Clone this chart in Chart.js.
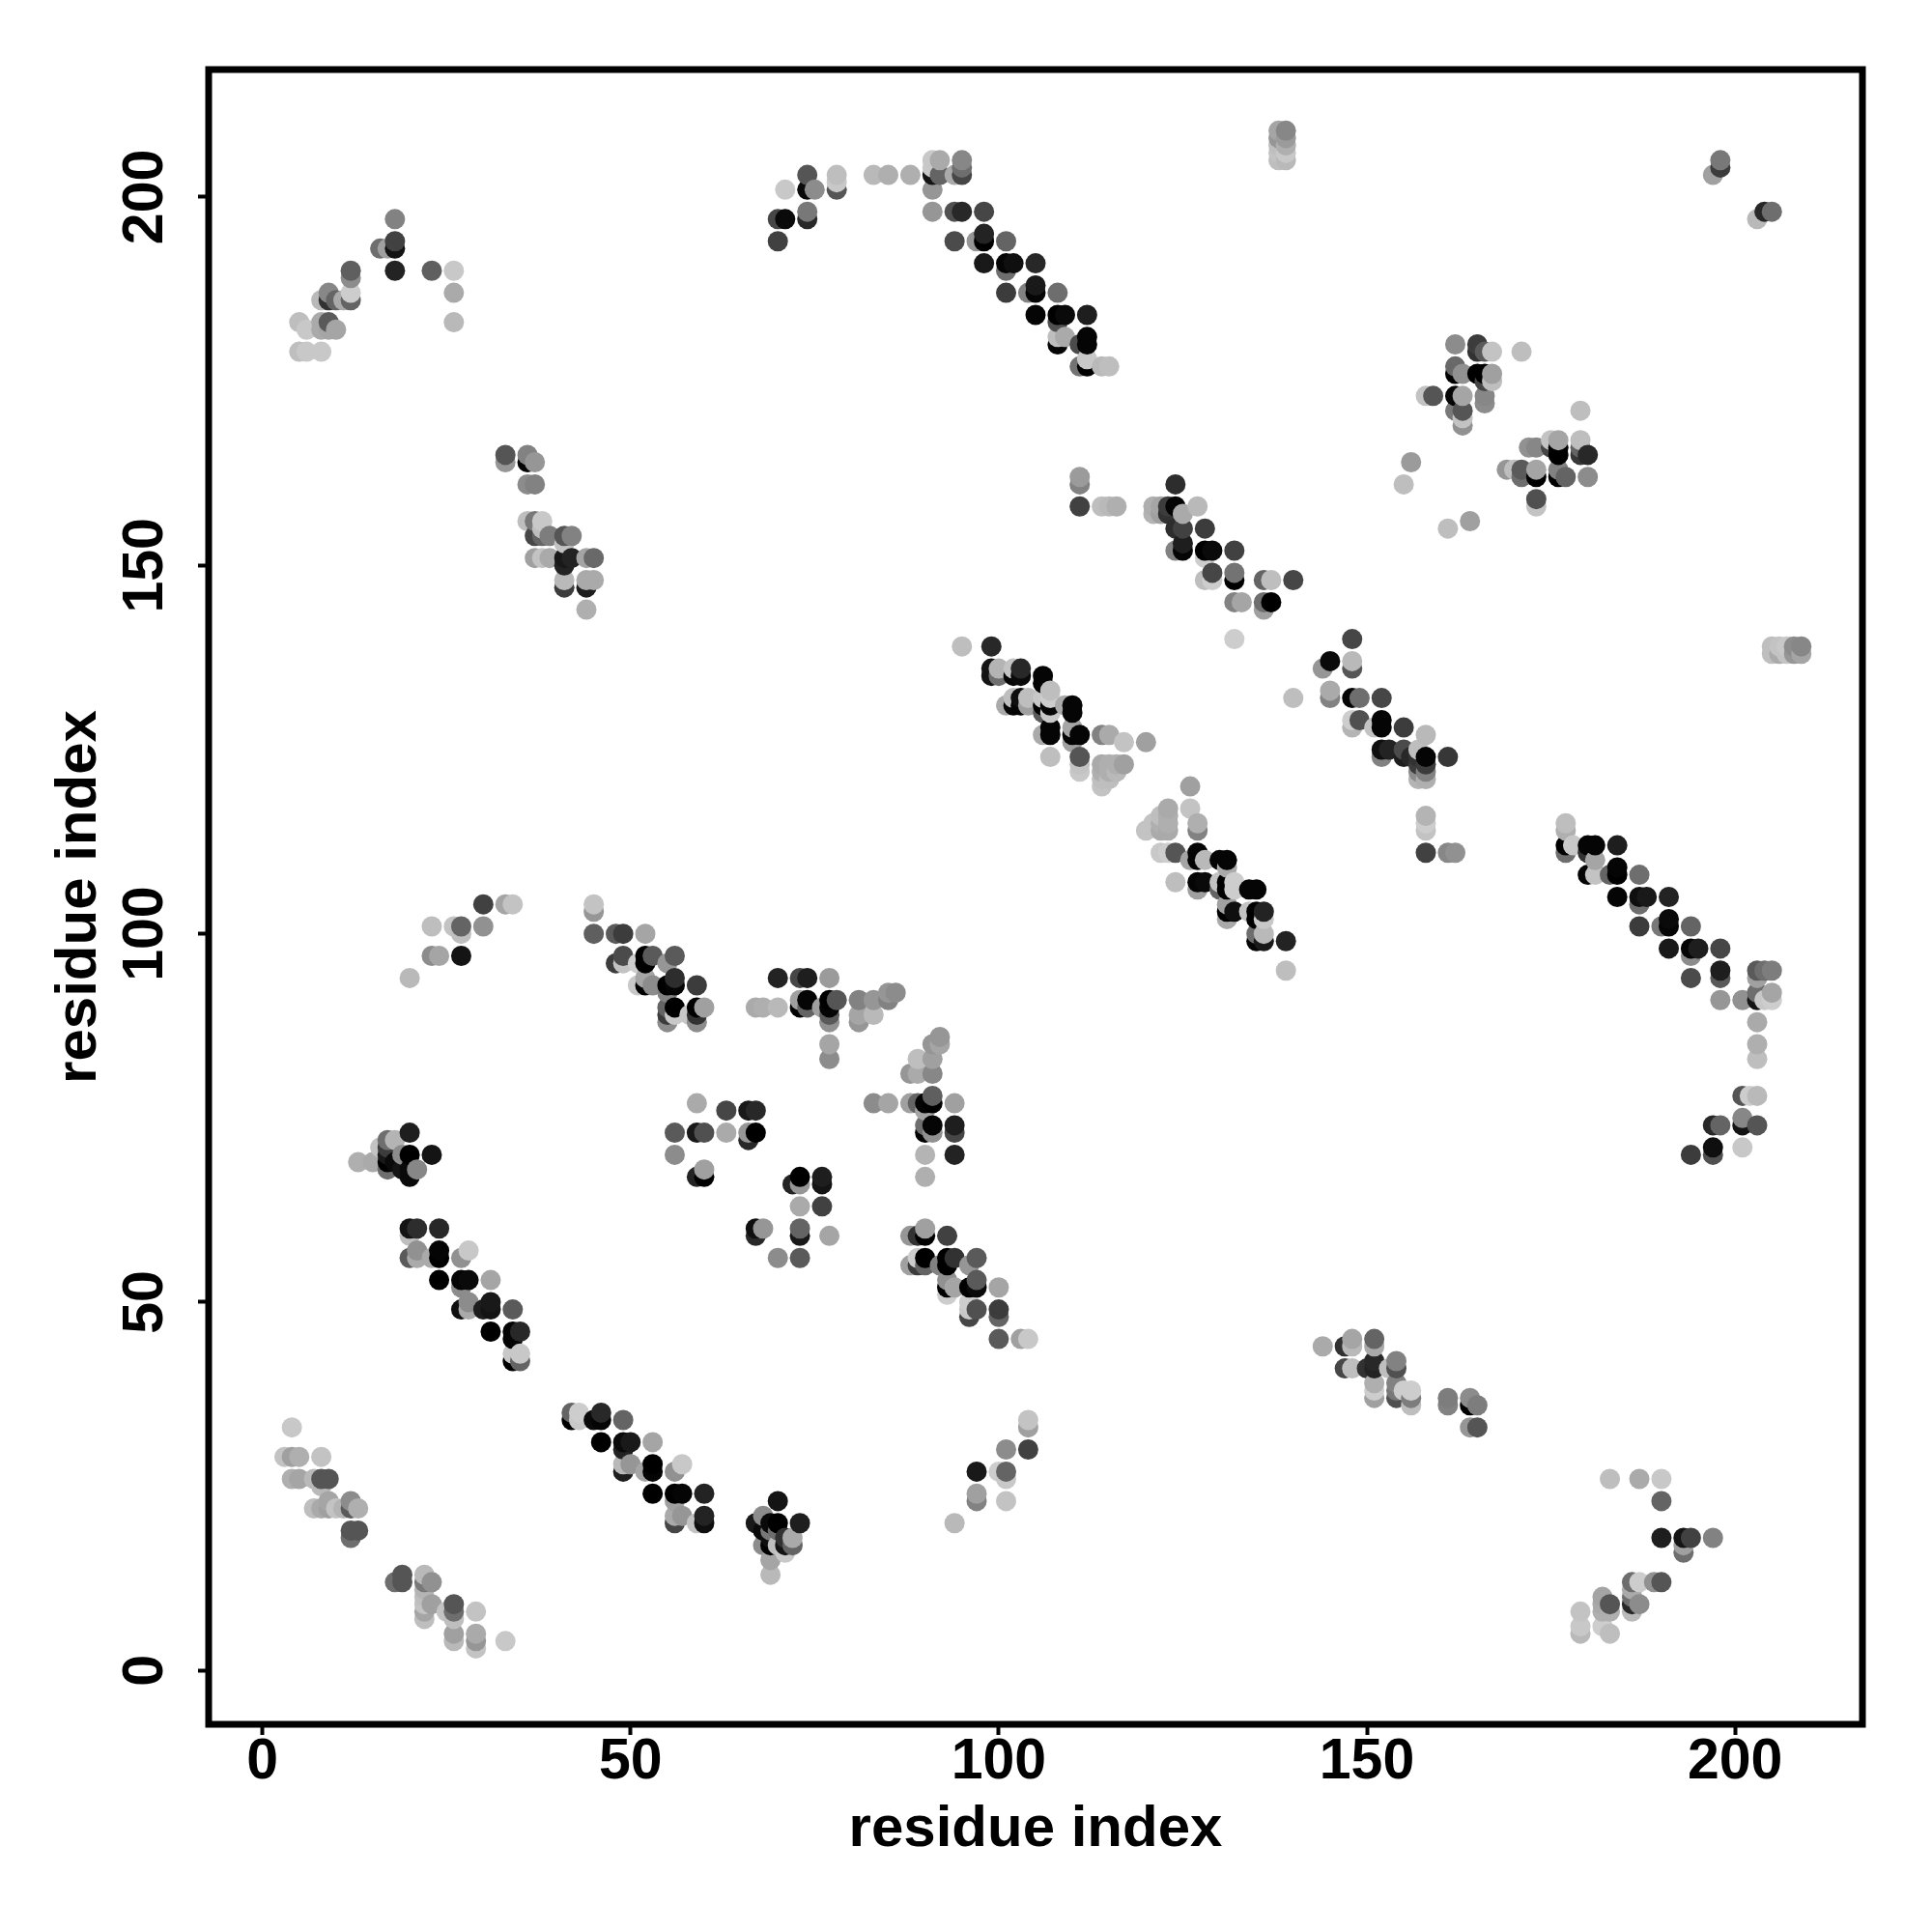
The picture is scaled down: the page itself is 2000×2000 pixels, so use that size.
<!DOCTYPE html>
<html><head><meta charset="utf-8">
<style>html,body{margin:0;padding:0;background:#fff}canvas{display:block}</style>
<script src="https://cdn.jsdelivr.net/npm/chart.js@4"></script>
</head><body><canvas id="c" width="2000" height="2000"></canvas>
<script>
// Each contact: [residue i, residue j, grey level]
const AXIS_TITLE = 'residue index';
const tickValues = [0, 50, 100, 150, 200];
const contactsA = [[4,33,200],[3,29,195],[4,29,160],[5,29,175],[8,29,195],[4,26,175],[5,26,165],[7,26,185],[8,26,85],[9,26,85],[8,25,185],[7,22,190],[8,22,170],[9,22,160],[9,23,165],[10,22,195],[11,22,180],[12,22,90],[12,23,140],[13,22,175],[12,19,85],[13,19,85],[12,18,110]];
const contactsB = [[18,12,110],[19,13,85],[19,12,85],[22,13,185],[22,12,120],[22,11,180],[22,10,190],[22,9,195],[22,8,165],[22,7,190],[23,12,145],[23,9,160],[25,8,195],[26,9,85],[26,8,110],[26,7,190],[26,5,160],[26,4,185],[29,8,195],[29,5,170],[29,4,150],[29,3,195],[33,4,200]];
const contactsC = [[20,60,20],[21,60,45],[24,60,40],[20,59,190],[21,57,145],[28,57,200],[20,56,90],[21,56,170],[23,56,170],[24,56,0],[24,57,5],[27,56,145],[24,53,0],[27,53,5],[28,53,10],[31,53,165],[27,52,140],[27,49,15],[28,49,170],[30,49,30],[31,49,20],[34,49,90],[28,50,140],[31,50,25],[31,46,0],[34,46,5],[35,46,40],[34,45,5],[34,43,200],[35,43,200],[34,42,0],[35,42,100]];
const contactsD = [[42,35,100],[43,35,205],[42,34,0],[43,34,200],[45,34,10],[46,34,5],[49,34,100],[46,35,40],[46,31,0],[49,31,10],[50,31,25],[53,31,165],[49,30,35],[49,28,185],[50,28,150],[53,28,0],[57,28,200],[49,27,30],[52,27,165],[53,27,5],[56,27,145],[53,24,0],[56,24,0],[57,24,5],[60,24,35],[56,23,160],[56,21,170],[57,21,150],[60,21,35],[56,20,70],[59,20,195],[60,20,15]];
const contactsE = [[70,23,20],[67,20,25],[68,21,140],[69,20,10],[70,20,0],[73,20,30],[68,19,10],[69,19,120],[70,19,110],[71,18,50],[72,18,170],[72,17,100],[68,17,140],[69,17,0],[69,18,15],[70,17,190],[71,17,20],[71,16,200],[69,15,165],[69,13,185]];
const contactsF = [[67,60,15],[68,60,150],[67,59,40],[73,60,100],[73,59,25],[77,59,165],[70,56,140],[73,56,90],[73,63,170],[76,63,65],[72,66,35],[73,67,0],[73,66,150],[76,67,30],[76,66,20]];
const contactsG = [[88,59,150],[89,59,50],[90,60,160],[90,59,0],[93,59,65],[89,56,205],[90,56,0],[93,56,0],[94,56,50],[97,56,90],[88,55,160],[89,55,60],[90,55,100],[92,55,130],[93,55,0],[96,55,150],[93,53,145],[97,53,90],[93,52,0],[94,52,165],[96,52,0],[97,52,10],[100,52,165],[93,51,205],[96,50,205],[96,49,200],[97,49,80],[100,49,60],[96,48,70],[100,48,100],[100,45,90],[103,45,160],[104,45,200]];
const contactsH = [[104,34,195],[104,33,160],[101,30,140],[104,30,65],[97,27,25],[100,27,205],[101,27,100],[101,26,200],[97,24,160],[97,23,130],[101,23,195],[94,20,185]];
const contactsI = [[144,44,170],[147,44,50],[148,45,165],[148,44,185],[151,45,100],[151,44,170],[147,41,70],[148,41,190],[150,41,50],[151,41,35],[151,42,40],[153,41,190],[154,42,130],[154,41,80],[151,39,175],[151,38,205],[151,37,160],[154,39,130],[154,38,120],[154,37,80],[155,38,205],[156,38,205],[156,37,125],[156,36,190],[161,37,125],[161,36,130],[164,37,140],[164,36,0],[165,36,125],[164,33,150],[165,33,85]];
const contactsJ = [[183,26,190],[187,26,170],[190,26,200],[190,23,100],[190,18,30],[193,18,20],[194,18,65],[197,18,130],[193,17,160],[193,16,110],[186,12,110],[187,12,205],[189,12,145],[190,12,85],[186,11,170],[186,10,110],[186,9,40],[187,9,140],[186,8,185],[182,10,165],[182,9,170],[183,9,85],[183,8,175],[182,8,175],[179,8,195],[179,6,200],[179,5,185],[182,6,205],[183,5,190]];
const contactsK = [[20,94,185],[23,97,140],[24,97,165],[27,97,20],[23,101,190],[26,101,195],[27,101,100],[30,101,145],[27,100,190],[30,104,65],[33,104,165],[34,104,195]];
const contactsL = [[45,104,195],[45,103,150],[45,100,95],[48,100,90],[49,100,60],[52,100,165],[49,97,75],[52,97,0],[53,97,90],[56,97,90],[48,96,60],[49,96,195],[51,96,205],[52,96,0],[55,96,150],[52,94,165],[56,94,45],[51,93,200],[52,93,0],[53,93,140],[55,93,0],[56,93,5],[59,93,60],[55,92,130],[55,90,100],[56,90,0],[59,90,0],[60,90,160],[67,90,170],[55,89,60],[56,89,200],[58,89,200],[59,89,50],[55,88,140],[59,88,140]];
const contactsM = [[59,77,170],[63,76,70],[66,76,25],[67,76,40],[56,73,90],[59,73,25],[60,73,80],[63,73,170],[66,73,150],[67,73,0],[66,72,40],[56,70,140],[60,68,160],[59,67,35],[60,67,0]];
const contactsN = [[20,73,30],[23,70,20],[13,69,175],[15,69,170],[16,71,195],[17,72,110],[18,72,180],[17,71,60],[17,70,25],[19,70,140],[20,70,0],[17,69,0],[18,69,10],[17,68,110],[19,68,20],[20,68,10],[20,67,10],[21,68,135]];
const contactsO = [[70,94,35],[73,94,70],[74,94,30],[77,94,155],[73,91,160],[74,91,5],[77,91,0],[78,91,85],[81,91,130],[83,91,150],[85,92,150],[86,92,140],[85,91,130],[68,90,175],[70,90,185],[73,90,0],[74,90,100],[76,90,160],[77,90,5],[81,89,165],[83,89,185],[81,88,150],[77,89,90],[77,88,145],[77,85,165],[77,83,140]];
const contactsP = [[92,86,150],[92,85,165],[91,85,150],[91,83,160],[89,83,190],[88,81,150],[89,81,170],[91,81,135],[91,78,95],[83,77,140],[85,77,165],[88,77,160],[89,77,100],[90,77,5],[91,77,0],[94,77,160],[90,76,165],[90,74,110],[91,74,5],[94,74,30],[90,73,0],[91,73,145],[94,73,70],[90,70,180],[94,70,35],[90,67,175]];
const contactsQ = [[99,139,40],[95,139,190],[99,136,20],[100,136,180],[99,135,20],[100,135,110],[102,136,195],[103,136,40],[102,135,5],[103,135,10],[106,135,5],[106,134,5],[102,132,190],[103,132,15],[104,132,190],[106,132,200],[107,133,190],[101,131,170],[102,131,5],[103,131,5],[104,131,160],[106,131,0],[106,130,90],[107,132,205],[107,131,5],[107,130,200],[109,131,170],[110,131,5],[110,130,5],[106,127,170],[107,128,5],[107,127,5],[110,128,165],[110,127,5],[111,127,5],[110,126,160],[114,127,130],[115,127,170],[117,126,195],[120,126,160],[107,124,190],[111,124,85],[111,123,195],[111,122,200],[114,123,170],[114,122,175],[115,123,175],[115,122,175],[116,123,175],[117,123,160],[114,120,195],[115,121,190],[116,122,185],[114,121,190]];
const contactsR = [[126,120,160],[126,117,195],[127,115,175],[127,114,130],[123,117,170],[122,116,190],[123,116,175],[121,115,195],[122,115,175],[123,115,175],[120,114,195],[122,114,170],[123,114,170],[122,111,200],[123,111,205],[124,111,85],[127,111,5],[126,110,165],[127,110,5],[128,110,185],[130,110,5],[131,110,5],[131,109,170],[124,107,190],[127,107,5],[128,107,10],[130,107,195],[131,107,0],[132,107,205],[127,106,160],[130,106,100],[131,106,0],[132,106,205],[134,106,5],[135,106,5],[131,104,160],[131,103,0],[132,103,15],[134,103,195],[135,103,0],[136,103,35],[131,102,170],[135,102,0],[136,102,200],[135,100,110],[136,100,185],[135,99,5],[136,99,25],[139,99,35],[139,95,190]];
const contactsS = [[148,140,70],[145,137,10],[144,136,150],[148,137,185],[148,136,85],[145,133,170],[145,132,130],[148,132,5],[149,132,110],[152,132,70],[140,132,190],[158,127,185],[157,125,190],[152,128,5],[152,129,5],[149,129,80],[148,129,205],[148,128,180],[155,128,60],[151,128,195],[161,124,55],[152,125,15],[153,125,35],[155,125,75],[152,124,130],[155,124,30],[156,124,40],[158,124,5],[157,124,50],[157,123,60],[158,123,60],[157,122,140],[158,122,130],[157,121,180],[158,121,175],[158,116,180],[158,114,195],[158,115,205],[158,111,65],[161,111,135],[162,111,145]];
const contactsT = [[177,115,190],[177,114,175],[177,112,0],[178,112,200],[180,112,5],[181,112,5],[184,112,30],[177,111,110],[180,111,50],[181,110,165],[180,108,5],[181,108,195],[183,108,100],[184,108,0],[187,108,110],[184,109,5],[184,105,5],[187,105,15],[188,105,25],[191,105,35],[187,104,110],[187,101,60],[190,101,120],[191,101,5],[194,101,100],[191,102,10],[191,98,25],[194,98,5],[195,98,30],[198,98,70],[194,97,140],[194,94,75],[198,95,30],[198,94,90],[203,95,90],[204,95,110],[205,95,125],[203,94,160],[203,92,110],[205,92,165],[198,91,150],[201,91,145],[203,91,20],[204,91,200],[205,91,205],[203,88,170],[203,85,175],[203,83,190],[201,78,85],[202,78,205],[203,78,185],[201,75,135],[197,74,40],[198,74,100],[201,74,20],[203,74,85],[201,71,200],[197,71,15],[197,70,80],[194,70,60]];
const contactsU = [[197,203,160],[198,204,60],[198,205,120],[203,197,185],[204,198,40],[205,198,110]];
const contactsV = [[18,197,130],[16,193,110],[17,193,160],[18,194,65],[18,193,20],[18,190,35],[23,190,95],[26,190,200],[26,187,170],[26,183,185],[12,190,95],[12,189,140],[12,187,205],[12,186,100],[11,186,170],[9,187,135],[8,186,185],[9,186,50],[10,186,100],[9,183,90],[8,183,170],[5,183,190],[6,182,200],[8,182,170],[9,182,165],[10,182,165],[5,179,190],[6,179,200],[8,179,200]];
const contactsW = [[33,165,85],[33,164,150],[36,165,130],[36,164,5],[37,164,150],[36,161,140],[37,161,130],[36,156,190],[37,156,120],[38,156,200],[38,155,190],[37,154,70],[38,154,100],[39,154,125],[41,154,85],[42,154,130],[41,153,195],[37,151,160],[38,151,195],[39,151,170],[41,151,25],[42,151,35],[44,151,165],[45,151,105],[41,150,35],[41,148,185],[44,148,170],[45,148,170],[41,147,60],[44,147,30],[44,144,175]];
const contactsX = [[70,194,65],[70,197,70],[71,197,10],[74,197,40],[74,198,120],[71,201,200],[74,201,10],[75,201,140],[74,203,85],[78,203,190],[78,202,200],[78,201,85],[83,203,185],[85,203,175],[88,203,175],[91,205,200],[92,205,170],[91,204,200],[91,203,20],[92,203,100],[94,203,170],[95,203,70],[95,205,135],[95,204,110],[91,201,150]];
const contactsY = [[91,198,150],[94,198,80],[95,198,40],[98,198,70],[94,194,75],[97,194,150],[98,194,0],[98,195,35],[101,194,100],[98,191,25],[101,191,5],[102,191,15],[105,191,40],[101,190,110],[101,187,60],[104,187,130],[105,187,5],[105,188,25],[108,187,110],[105,184,5],[108,184,0],[109,184,10],[112,184,30],[108,183,80],[108,181,190],[109,181,170],[112,181,5],[108,180,5],[111,180,75],[112,180,5],[112,178,200],[111,177,115],[112,177,0],[114,177,185],[115,177,190]];
const contactsZ = [[111,162,155],[111,161,130],[111,158,65],[114,158,190],[115,158,185],[116,158,175],[124,161,45],[121,158,175],[122,158,165],[123,158,60],[124,158,5],[127,158,185],[121,157,180],[122,157,160],[123,157,50],[125,157,170],[128,155,60],[124,155,45],[125,155,65],[125,153,30],[125,152,5],[124,152,130],[128,152,0],[129,152,10],[132,152,65],[128,151,205],[129,149,70],[132,149,115],[132,148,0],[128,148,190],[129,148,205],[136,148,100],[137,148,190],[140,148,70],[132,145,130],[133,145,165],[136,145,110],[137,145,0],[136,144,160],[132,140,205]];
const contactsAA = [[138,209,165],[138,208,150],[138,207,190],[138,206,195],[138,205,190],[139,209,135],[139,208,155],[139,207,175],[139,206,200],[139,205,185],[205,139,190],[206,139,195],[207,139,200],[208,139,140],[209,139,135],[205,138,190],[206,138,170],[207,138,195],[208,138,150],[209,138,165]];
const contactsAB = [[162,180,140],[165,180,60],[165,179,50],[166,179,90],[167,179,195],[171,179,190],[162,177,105],[163,176,145],[162,176,0],[165,176,0],[166,176,0],[167,176,160],[166,175,70],[167,175,190],[158,173,195],[159,173,85],[162,173,5],[163,173,165],[166,173,135],[166,172,140],[162,171,120],[163,171,85],[163,170,195],[163,169,145],[179,171,190],[156,164,155],[155,161,190],[161,155,190],[164,156,160]];
const contactsAC = [[175,167,195],[176,167,165],[179,167,190],[172,166,145],[173,166,135],[175,166,70],[176,166,0],[179,166,100],[176,165,0],[179,165,55],[180,165,40],[169,163,150],[170,163,190],[171,163,90],[173,163,165],[176,163,130],[171,162,110],[173,162,0],[176,162,0],[177,162,100],[180,162,140],[173,159,80],[173,158,195]];

const allContacts = [contactsA,contactsB,contactsC,contactsD,contactsE,contactsF,contactsG,contactsH,contactsI,contactsJ,contactsK,contactsL,contactsM,contactsN,contactsO,contactsP,contactsQ,contactsR,contactsS,contactsT,contactsU,contactsV,contactsW,contactsX,contactsY,contactsZ,contactsAA,contactsAB,contactsAC]
  .flat().sort((a,b)=>a[0]-b[0]||a[1]-b[1]);

const TICK_FONT = {family:'"Liberation Sans", Arial, sans-serif', weight:'bold', size:59};
const TITLE_FONT = {family:'"Liberation Sans", Arial, sans-serif', weight:'bold', size:60};
const frame = {id:'frame', afterDatasetsDraw(chart){
  const a = chart.chartArea, g = chart.ctx;
  g.save(); g.strokeStyle='#000'; g.lineWidth=7; g.lineJoin='miter';
  g.strokeRect(a.left,a.top,a.right-a.left,a.bottom-a.top); g.restore();
}};
function axis(extra){
  return Object.assign({
    type:'linear', min:-7.3, max:217.3,
    afterBuildTicks(s){ s.ticks = tickValues.map(v=>({value:v})); },
    grid:{drawOnChartArea:false, drawTicks:true, tickLength:11, tickWidth:4, tickColor:'#000', color:'#000'},
    border:{display:false}
  }, extra);
}
new Chart(document.getElementById('c'), {
  type:'scatter',
  data:{datasets:[{
    data: allContacts.map(c=>({x:c[0],y:c[1]})),
    backgroundColor: allContacts.map(c=>`rgb(${c[2]},${c[2]},${c[2]})`),
    borderWidth:0, pointBorderWidth:0, pointRadius:10.5, pointHoverRadius:10.5
  }]},
  plugins:[frame],
  options:{
    responsive:false, animation:false, devicePixelRatio:1,
    layout:{padding:{top:72,right:72,left:0,bottom:0}},
    plugins:{legend:{display:false},tooltip:{enabled:false}},
    scales:{
      x: axis({
        afterFit(s){ s.height = 215; },
        ticks:{color:'#000',font:TICK_FONT,padding:-7,maxRotation:0,minRotation:0,autoSkip:false},
        title:{display:true,text:AXIS_TITLE,color:'#000',font:TITLE_FONT,padding:{top:0,bottom:70}}
      }),
      y: axis({
        afterFit(s){ s.width = 216; },
        ticks:{color:'#000',font:TICK_FONT,padding:4,minRotation:90,maxRotation:90,autoSkip:false,crossAlign:'center'},
        title:{display:true,text:AXIS_TITLE,color:'#000',font:TITLE_FONT,padding:{top:46,bottom:0}}
      })
    }
  }
});
</script></body></html>
